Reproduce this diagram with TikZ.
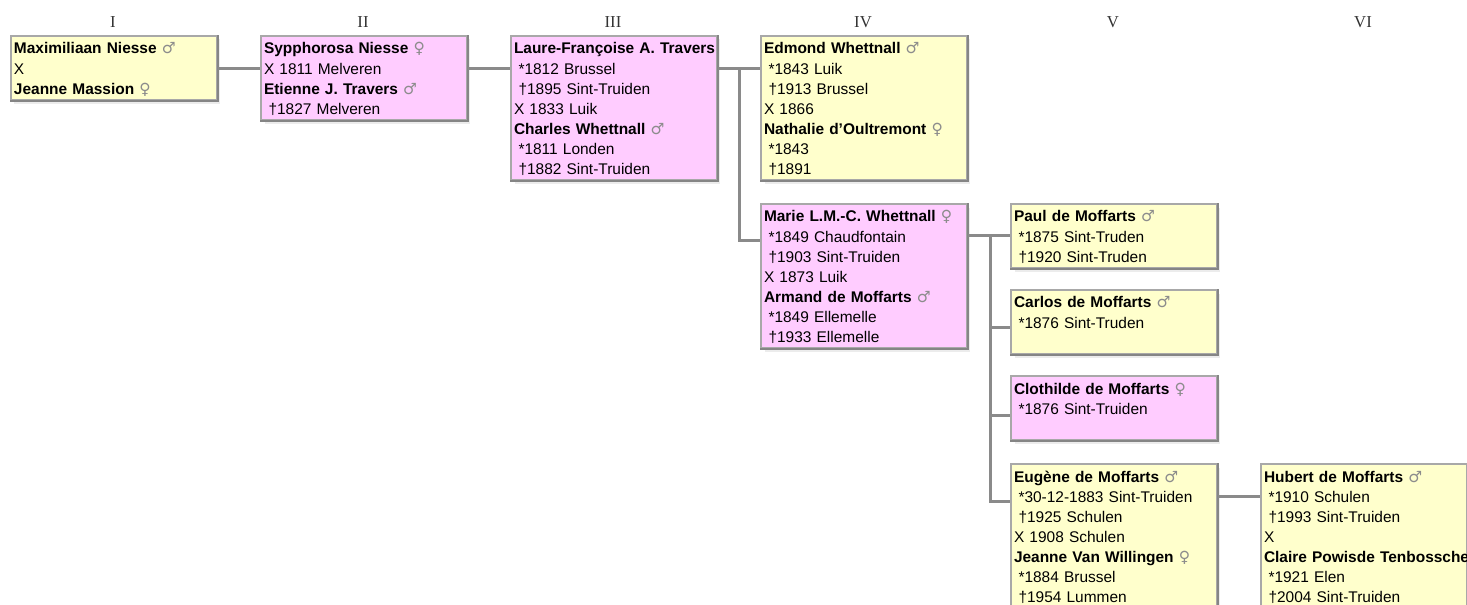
\documentclass[tikz,border=0pt]{standalone}
\usepackage{fontspec}
\setmainfont{Liberation Sans}
\newfontfamily\romfont{Liberation Serif}
\newfontfamily\symfont{DejaVu Sans}
\usetikzlibrary{shadows}
\definecolor{manfill}{HTML}{FFFFCC}
\definecolor{womanfill}{HTML}{FFCCFF}
\definecolor{edgegray}{HTML}{A8A8A8}
\definecolor{darkedge}{HTML}{858585}
\definecolor{linkgray}{HTML}{8A8A8A}
\definecolor{symgray}{HTML}{8C8C8C}
\newcommand{\lstrut}{\rule[-0.08cm]{0pt}{0.4cm}}
\newcommand{\pname}[2]{\mbox{\lstrut\textbf{#1}\ {\symfont\color{symgray}#2}}}
\newcommand{\pnm}[1]{\mbox{\lstrut\textbf{#1}}}
\newcommand{\pln}[1]{\mbox{\lstrut#1}}
\newcommand{\pev}[1]{\mbox{\lstrut\hspace{0.09cm}#1}}
\tikzset{
  person/.style={draw=edgegray, line width=0.04cm, anchor=north west, text width=4.0cm,
    inner xsep=0.06cm, inner ysep=0.04cm, align=left, font=\fontsize{8.8}{11.4}\selectfont,
    drop shadow={shadow xshift=0.07cm, shadow yshift=-0.07cm, fill=black!25, opacity=0.3}},
  man/.style={person, fill=manfill},
  woman/.style={person, fill=womanfill},
  gen/.style={anchor=base, font=\romfont\fontsize{9.5}{11}\selectfont, text=black!80},
  link/.style={draw=linkgray, line width=0.06cm},
}
\begin{document}
\begin{tikzpicture}[x=0.02cm, y=-0.02cm]
  \useasboundingbox (0,0) rectangle (1467,605);
  \clip (0,0) rectangle (1467,605);
  \node[gen] (gI) at (113,28) {I};
  \node[gen] (gII) at (363,28) {II};
  \node[gen] (gIII) at (613,28) {III};
  \node[gen] (gIV) at (863,28) {IV};
  \node[gen] (gV) at (1113,28) {V};
  \node[gen] (gVI) at (1363,28) {VI};
  \node[man] (bI) at (10,35) {\pname{Maximiliaan Niesse}{♂}\\\pln{X}\\\pname{Jeanne Massion}{♀}};
  \node[woman] (bII) at (260,35) {\pname{Sypphorosa Niesse}{♀}\\\pln{X 1811 Melveren}\\\pname{Etienne J. Travers}{♂}\\\pev{†1827 Melveren}};
  \node[woman] (bIII) at (510,35) {\pnm{Laure-Françoise A. Travers}\\\pev{*1812 Brussel}\\\pev{†1895 Sint-Truiden}\\\pln{X 1833 Luik}\\\pname{Charles Whettnall}{♂}\\\pev{*1811 Londen}\\\pev{†1882 Sint-Truiden}};
  \node[man] (bIV) at (760,35) {\pname{Edmond Whettnall}{♂}\\\pev{*1843 Luik}\\\pev{†1913 Brussel}\\\pln{X 1866}\\\pname{Nathalie d’Oultremont}{♀}\\\pev{*1843}\\\pev{†1891}};
  \node[woman] (bMarie) at (760,203) {\pname{Marie L.M.-C. Whettnall}{♀}\\\pev{*1849 Chaudfontain}\\\pev{†1903 Sint-Truiden}\\\pln{X 1873 Luik}\\\pname{Armand de Moffarts}{♂}\\\pev{*1849 Ellemelle}\\\pev{†1933 Ellemelle}};
  \node[man] (bPaul) at (1010,203) {\pname{Paul de Moffarts}{♂}\\\pev{*1875 Sint-Truden}\\\pev{†1920 Sint-Truden}};
  \node[man] (bCarlos) at (1010,289) {\pname{Carlos de Moffarts}{♂}\\\pev{*1876 Sint-Truden}\\\pln{}};
  \node[woman] (bClothilde) at (1010,375) {\pname{Clothilde de Moffarts}{♀}\\\pev{*1876 Sint-Truiden}\\\pln{}};
  \node[man] (bEugene) at (1010,463) {\pname{Eugène de Moffarts}{♂}\\\pev{*30-12-1883 Sint-Truiden}\\\pev{†1925 Schulen}\\\pln{X 1908 Schulen}\\\pname{Jeanne Van Willingen}{♀}\\\pev{*1884 Brussel}\\\pev{†1954 Lummen}};
  \node[man] (bHubert) at (1260,463) {\pname{Hubert de Moffarts}{♂}\\\pev{*1910 Schulen}\\\pev{†1993 Sint-Truiden}\\\pln{X}\\\pnm{Claire Powisde Tenbossche}\\\pev{*1921 Elen}\\\pev{†2004 Sint-Truiden}};
  \foreach \b in {bI,bII,bIII,bIV,bMarie,bPaul,bCarlos,bClothilde,bEugene,bHubert}
    \draw[darkedge, line width=0.04cm] (\b.north east) -- (\b.south east) -- (\b.south west);
  \coordinate (jIV) at (739,69);
  \coordinate (jV) at (990,236);
  \draw[link] ([yshift=-0.68cm]bI.north east) -- ([yshift=-0.68cm]bII.north west);
  \draw[link] ([yshift=-0.68cm]bII.north east) -- ([yshift=-0.68cm]bIII.north west);
  \draw[link] ([yshift=-0.68cm]bIII.north east) -- ([yshift=-0.68cm]bIV.north west);
  \draw[link] (jIV) |- ([yshift=-0.76cm]bMarie.north west);
  \draw[link] ([yshift=-0.66cm]bMarie.north east) -- ([yshift=-0.66cm]bPaul.north west);
  \draw[link] (jV) |- ([yshift=-0.78cm]bCarlos.north west);
  \draw[link] (jV) |- ([yshift=-0.82cm]bClothilde.north west);
  \draw[link] (jV) |- ([yshift=-0.78cm]bEugene.north west);
  \draw[link] ([yshift=-0.68cm]bEugene.north east) -- ([yshift=-0.68cm]bHubert.north west);
\end{tikzpicture}
\end{document}
